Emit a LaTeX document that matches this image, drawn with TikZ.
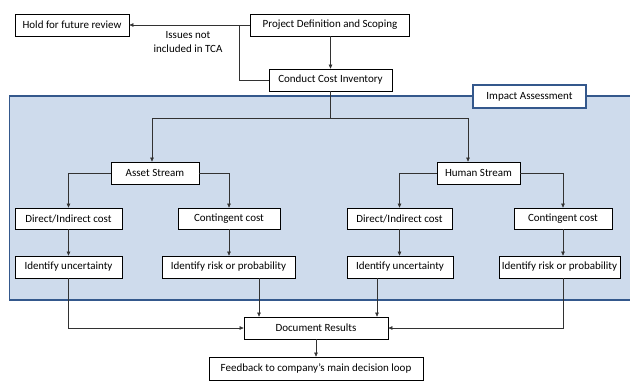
\documentclass[tikz,border=0pt]{standalone}
\usepackage{fontspec}
\setmainfont{Carlito}
\usetikzlibrary{arrows.meta}
\definecolor{panelfill}{RGB}{206,219,236}
\definecolor{paneledge}{RGB}{52,88,140}
\definecolor{linegray}{RGB}{50,50,50}
\begin{document}
\begin{tikzpicture}[x=1pt,y=-1pt,
  box/.style={draw=black,line width=0.8pt,fill=white,inner sep=0pt,minimum height=22pt,font=\fontsize{11}{13}\selectfont},
  conn/.style={draw=linegray,line width=0.65pt},
  arr/.style={conn,-{Triangle[length=4pt,width=3.6pt]}}]
\useasboundingbox (0,0) rectangle (630,381);
\clip (0,0) rectangle (630,381);
% panel
\fill[panelfill] (9.5,96) rectangle (640,300);
\draw[paneledge,line width=1.6pt] (640,96) -- (9.5,96) -- (9.5,300) -- (640,300);
% boxes
\node[box,minimum width=114pt] (hold) at (72,25) {Hold for future review};
\node[box,minimum width=159pt] (proj) at (330,25) {Project Definition and Scoping};
\node[box,minimum width=123pt] (conduct) at (330.5,80) {Conduct Cost Inventory};
\node[box,draw=paneledge,line width=1.6pt,minimum width=113pt,minimum height=23pt] (impact) at (529.5,96.5) {Impact Assessment};
\node[box,minimum width=88pt] (asset) at (155,173) {Asset Stream};
\node[box,minimum width=83pt] (human) at (478.5,173) {Human Stream};
\node[box,minimum width=107pt,minimum height=21pt] (dirL) at (68.5,218.5) {Direct/Indirect cost};
\node[box,minimum width=102pt,minimum height=21pt] (contL) at (229,218.5) {Contingent cost};
\node[box,minimum width=107pt] (idUL) at (68.5,267) {Identify uncertainty};
\node[box,minimum width=133pt] (idRL) at (228.5,267) {Identify risk or probability};
\node[box,minimum width=105pt,minimum height=21pt] (dirR) at (399.5,218.5) {Direct/Indirect cost};
\node[box,minimum width=98pt,minimum height=21pt] (contR) at (563,218.5) {Contingent cost};
\node[box,minimum width=106pt] (idUR) at (400,267) {Identify uncertainty};
\node[box,minimum width=121pt] (idRR) at (559.5,267) {Identify risk or probability};
\node[box,minimum width=144pt] (doc) at (316,328) {Document Results};
\node[box,minimum width=214pt,minimum height=23pt] (feed) at (316,368.5) {Feedback to company’s main decision loop};
% label
\node[align=center,inner sep=0pt,font=\fontsize{11}{14.5}\selectfont] (lbl) at (188,42) {Issues not\\included in TCA};
% connectors
\draw[arr] (proj.west) -- (hold.east);
\coordinate (j1) at (239,25);
\draw[conn] (j1) |- (conduct.west);
\draw[arr] (proj.south -| conduct.north) -- (conduct.north);
\draw[arr] (conduct.south) -- ++(0,27) -| ([xshift=-3pt]asset.north);
\draw[arr] (conduct.south) -- ++(0,27) -| ([xshift=-10.5pt]human.north);
\draw[arr] (asset.west) -| (dirL.north);
\draw[arr] (asset.east) -| (contL.north);
\draw[arr] (human.west) -| (dirR.north);
\draw[arr] (human.east) -| (contR.north);
\draw[arr] (dirL.south) -- (idUL.north);
\draw[arr] (contL.south) -- (contL.south |- idRL.north);
\draw[arr] (dirR.south) -- (dirR.south |- idUR.north);
\draw[arr] (contR.south) -- (contR.south |- idRR.north);
\coordinate (r1) at ([xshift=30.5pt]idRL.south);
\coordinate (r2) at ([xshift=-23pt]idUR.south);
\coordinate (r3) at ([xshift=3.5pt]idRR.south);
\draw[arr] (idUL.south) |- (doc.west);
\draw[arr] (r1) -- (r1 |- doc.north);
\draw[arr] (r2) -- (r2 |- doc.north);
\draw[arr] (r3) |- (doc.east);
\draw[arr] (doc.south) -- (doc.south |- feed.north);
\end{tikzpicture}
\end{document}
